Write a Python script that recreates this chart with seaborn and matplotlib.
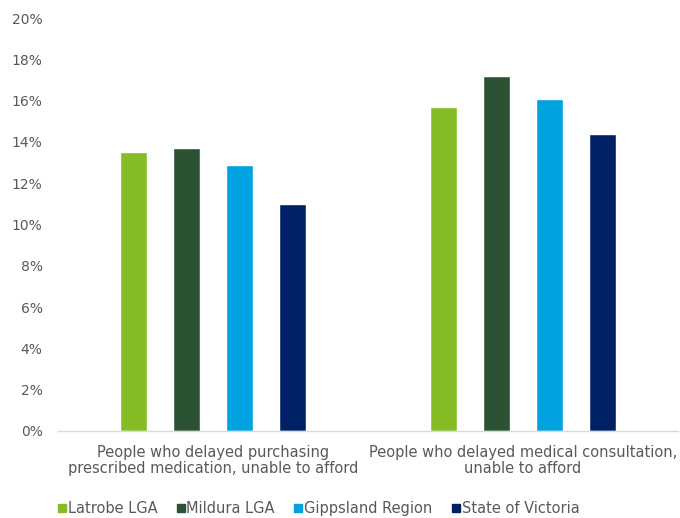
import matplotlib
matplotlib.use("Agg")
import matplotlib.pyplot as plt
import seaborn as sns
import pandas as pd
from matplotlib.lines import Line2D

categories = [
    "People who delayed purchasing\nprescribed medication, unable to afford",
    "People who delayed medical consultation,\nunable to afford",
]
regions = ["Latrobe LGA", "Mildura LGA", "Gippsland Region", "State of Victoria"]
latrobe = [13.5, 15.7]
mildura = [13.7, 17.2]
gippsland = [12.9, 16.1]
victoria = [11.0, 14.4]
colors = ["#86BC25", "#2C5234", "#00A3E0", "#002066"]

rows = []
for region, vals in zip(regions, [latrobe, mildura, gippsland, victoria]):
    for cat, v in zip(categories, vals):
        rows.append({"category": cat, "region": region, "value": v})
df = pd.DataFrame(rows)

sns.set_style("white")
plt.rcParams["font.family"] = ["DejaVu Sans"]
text_color = "#595959"

fig = plt.figure(figsize=(6.8, 5.18), dpi=100)
ax = fig.add_axes([0.085, 0.168, 0.912, 0.797])

sns.barplot(data=df, x="category", y="value", hue="region", order=categories,
            hue_order=regions, palette=colors, width=0.684, gap=0.49,
            saturation=1, ax=ax, legend=False)

ax.set_ylim(0, 20)
ax.set_yticks(range(0, 21, 2))
ax.set_yticklabels([f"{t}%" for t in range(0, 21, 2)])
ax.set_xlim(-0.5, 1.5)
ax.set_xlabel("")
ax.set_ylabel("")
for s in ["top", "right", "left"]:
    ax.spines[s].set_visible(False)
ax.spines["bottom"].set_color("#D9D9D9")
ax.spines["bottom"].set_linewidth(1)
ax.tick_params(axis="both", length=0, colors=text_color)
ax.tick_params(axis="y", pad=11, labelsize=10)
ax.tick_params(axis="x", pad=10, labelsize=10.5)
for lbl in ax.get_xticklabels():
    lbl.set_linespacing(1.1)
ax.grid(False)

handles = [Line2D([0], [0], marker="s", linestyle="none", markersize=6,
                  markerfacecolor=c, markeredgecolor=c) for c in colors]
fig.legend(handles, regions, loc="lower left", bbox_to_anchor=(56 / 680, 2 / 518),
           ncol=4, frameon=False, fontsize=10.5, handletextpad=0.0,
           columnspacing=1.2, labelcolor=text_color, handlelength=0.8,
           borderpad=0, borderaxespad=0)

fig.savefig("out.png", dpi=100)
